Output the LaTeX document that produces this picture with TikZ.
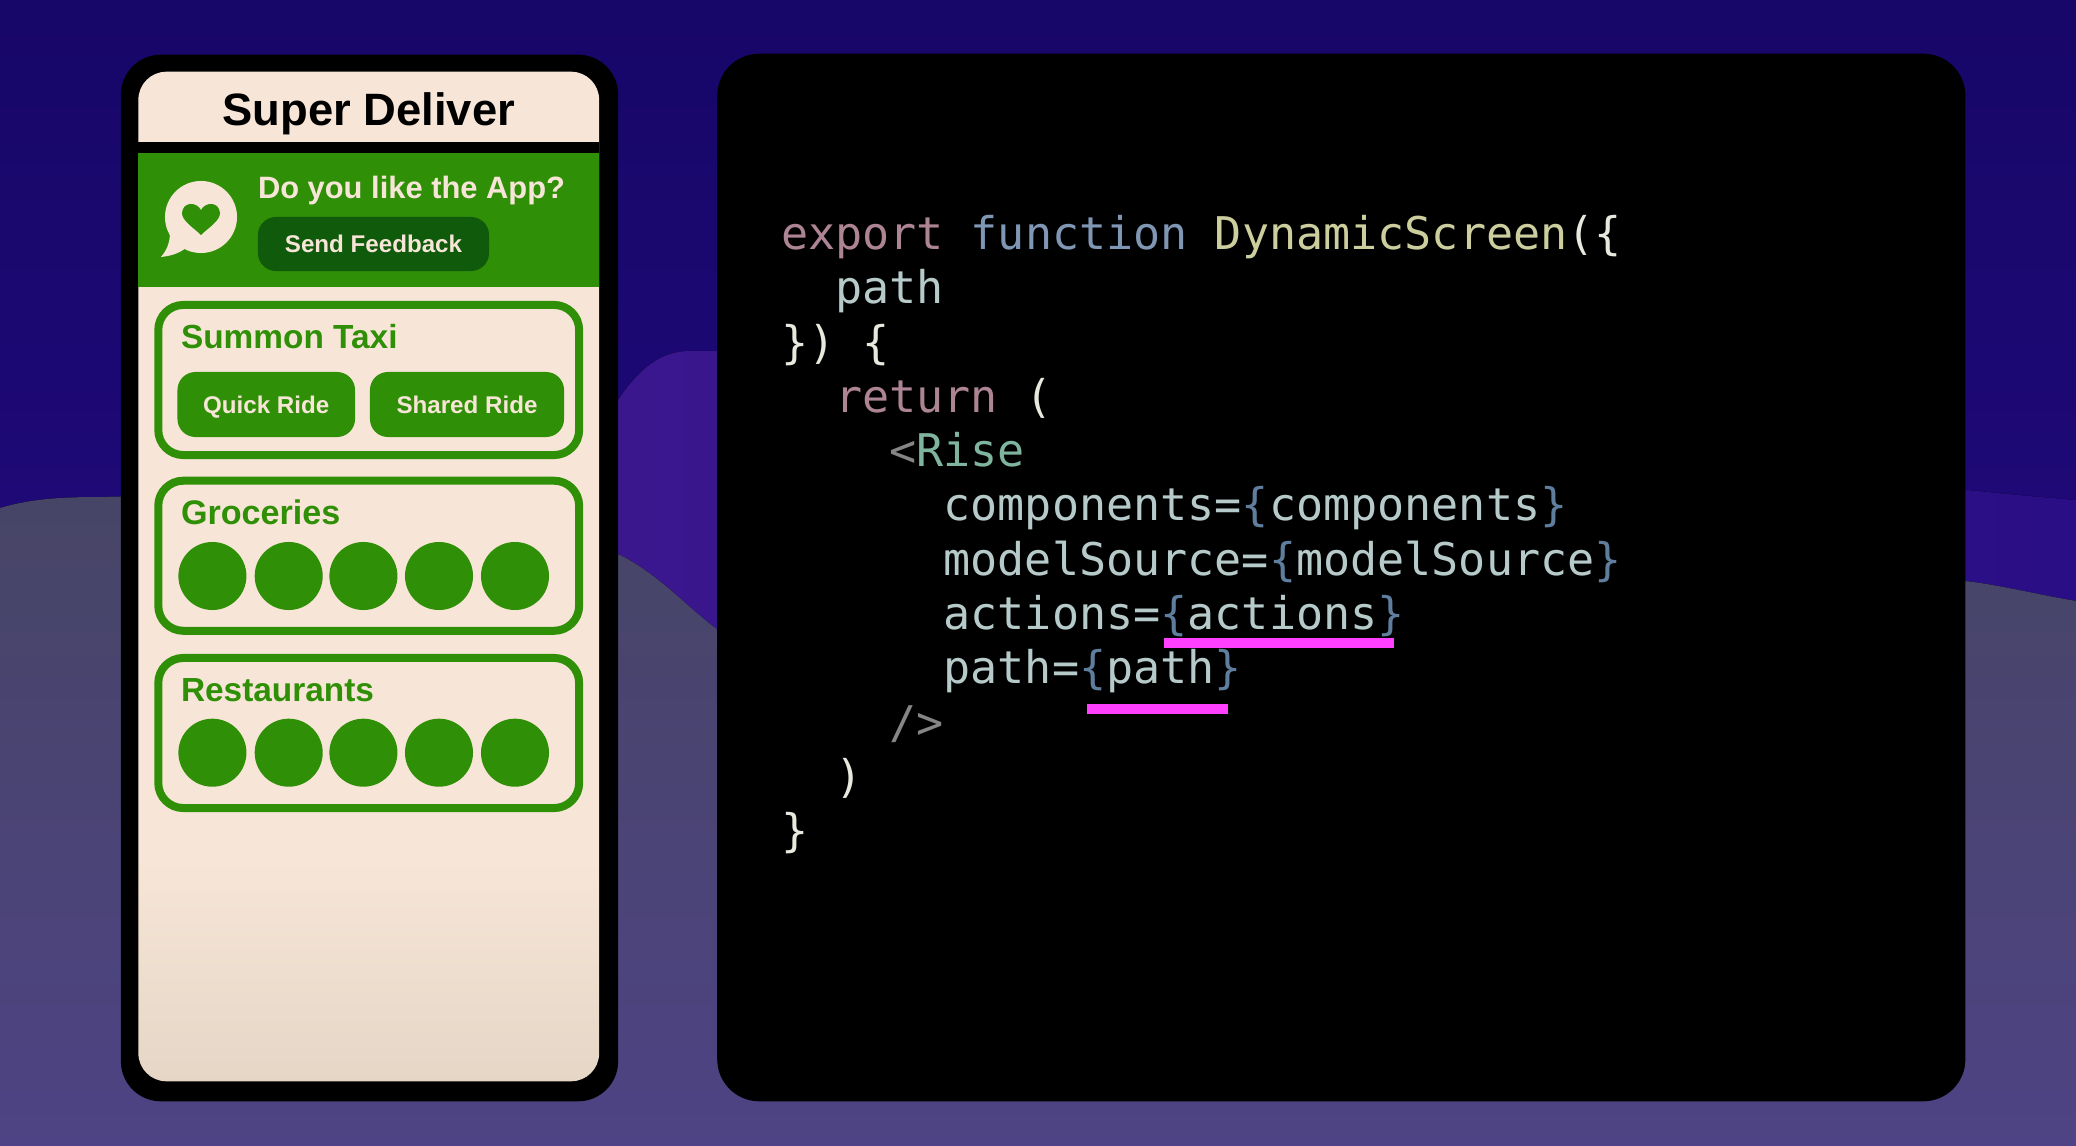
\documentclass[tikz,border=0pt]{standalone}
\usepackage{fontspec}
\setmainfont{Liberation Sans}
\setmonofont{DejaVu Sans Mono}
\usetikzlibrary{positioning}
\definecolor{skytop}{HTML}{170768}
\definecolor{skylow}{HTML}{270B88}
\definecolor{ridgeleft}{HTML}{3B178E}
\definecolor{ridgeright}{HTML}{2A0E86}
\definecolor{hilltop}{HTML}{474566}
\definecolor{hilllow}{HTML}{4E4384}
\definecolor{cream}{HTML}{F7E6D7}
\definecolor{creamlow}{HTML}{E5D6C6}
\definecolor{leaf}{HTML}{2F8F06}
\definecolor{leafdark}{HTML}{0F5A0B}
\definecolor{marker}{HTML}{FF40FF}
\definecolor{keyword}{HTML}{AD8494}
\definecolor{funcword}{HTML}{7F96B4}
\definecolor{funcname}{HTML}{CDCE9E}
\definecolor{plaincode}{HTML}{E8E8DE}
\definecolor{attrcode}{HTML}{B7CACA}
\definecolor{bracecode}{HTML}{5F7E9E}
\definecolor{tagmark}{HTML}{858585}
\definecolor{tagname}{HTML}{7FB59E}
\pgfdeclareverticalshading{screenfade}{100bp}{color(0bp)=(creamlow); color(25bp)=(creamlow); color(36bp)=(cream); color(100bp)=(cream)}

\begin{document}
\begin{tikzpicture}
	[x=0.01cm, y=-0.01cm, inner sep=0pt, outer sep=0pt,
	frame/.style	= {rectangle, fill=black, rounded corners=0.4cm},
	band/.style		= {rectangle, minimum width=4.605cm},
	card/.style		= {rectangle, draw=leaf, line width=0.08cm, rounded corners=0.25cm, minimum width=4.206cm, minimum height=1.5cm},
	action/.style	= {rectangle, fill=leaf, text=cream, rounded corners=0.18cm, minimum height=0.65cm, text height=0.17cm, text depth=0pt, font=\bfseries\fontsize{6.87}{8}\selectfont},
	heading/.style	= {anchor=base west, text=leaf, font=\bfseries\fontsize{9.5}{11}\selectfont},
	dot/.style		= {circle, fill=leaf, minimum size=0.68cm},
	code/.style		= {anchor=base west, text=attrcode, font=\ttfamily\fontsize{12.81}{15}\selectfont},
	underline/.style	= {rectangle, fill=marker, minimum height=0.1cm}]
	
	\useasboundingbox (0, 0) rectangle (2076, 1146);
	\fill [top color=skytop, bottom color=skylow] (0, 0) rectangle (2076, 1146);
	\fill [left color=ridgeleft, right color=ridgeright] (600, 430) .. controls (625, 385) and (650, 351) .. (690, 351) .. controls (900, 345) and (1700, 470) .. (2076, 500) -- (2076, 700) -- (600, 700) -- cycle;
	\fill [top color=hilltop, bottom color=hilllow] (0, 508) .. controls (30, 499) and (60, 497) .. (100, 497) .. controls (350, 490) and (520, 515) .. (620, 555) .. controls (660, 575) and (690, 610) .. (717, 629) .. controls (1100, 760) and (1700, 570) .. (1965, 581) .. controls (2000, 585) and (2040, 595) .. (2076, 601) -- (2076, 1146) -- (0, 1146) -- cycle;
	
	\node at (369.5, 578)	[frame, minimum width=4.97cm, minimum height=10.46cm]	(phone)	{};
	\node at (1341.3, 577.5)	[frame, minimum width=12.474cm, minimum height=10.47cm, rounded corners=0.42cm]	(panel)	{};
	
	\node at (368.75, 576.5)	[rectangle, rounded corners=0.28cm, shading=screenfade, minimum width=4.605cm, minimum height=10.09cm]	(screen)	{};
	\node at (368.75, 147.5)	[band, fill=black, minimum height=0.11cm]	(divider)	{};
	\node at (368.75, 220)	[band, fill=leaf, minimum height=1.34cm]	(banner)	{};
	\node at (368.75, 113.5)	[font=\bfseries\fontsize{12.9}{15}\selectfont, text=black]	(title)	{Super Deliver};
	
	\fill [cream] (201, 217) circle [radius=0.36cm];
	\fill [cream] (170, 232) .. controls (170, 244) and (166, 251) .. (161, 257) .. controls (170, 256) and (178, 254) .. (186, 248) -- cycle;
	\fill [leaf] (201, 210) .. controls (197, 202) and (183, 201) .. (182, 213) .. controls (182, 221) and (194, 228) .. (201, 235) .. controls (208, 228) and (220, 221) .. (220, 213) .. controls (219, 201) and (205, 202) .. (201, 210) -- cycle;
	
	\node at (258, 198.5)	[anchor=base west, text=cream, font=\bfseries\fontsize{8.78}{10}\selectfont]	(askapp)	{Do you like the App?};
	\node at (373.5, 244)	[action, fill=leafdark, minimum width=2.31cm, minimum height=0.54cm]	(feedback)	{Send Feedback};
	
	\node at (368.7, 380)	[card]	(taxi)	{};
	\node at (368.7, 555.75)	[card]	(groceries)	{};
	\node at (368.7, 733)	[card]	(restaurants)	{};
	
	\node at (181, 349)		[heading]	(taxilabel)	{Summon Taxi};
	\node at (181, 524)		[heading, font=\bfseries\fontsize{9.7}{11}\selectfont]	(grocerylabel)	{Groceries};
	\node at (181, 701)		[heading]	(restaurantlabel)	{Restaurants};
	
	\node at (266.25, 404.5)	[action, minimum width=1.775cm]	(quick)	{Quick Ride};
	\node at (467, 404.5)	[action, minimum width=1.94cm]	(shared)	{Shared Ride};
	
	\node at (212.4, 576)	[dot]	(g1)	{};
	\node at (288.7, 576)	[dot]	(g2)	{};
	\node at (363.4, 576)	[dot]	(g3)	{};
	\node at (439, 576)		[dot]	(g4)	{};
	\node at (515, 576)		[dot]	(g5)	{};
	
	\node at (212.4, 752.7)	[dot]	(r1)	{};
	\node at (288.7, 752.7)	[dot]	(r2)	{};
	\node at (363.4, 752.7)	[dot]	(r3)	{};
	\node at (439, 752.7)	[dot]	(r4)	{};
	\node at (515, 752.7)	[dot]	(r5)	{};
	
	\node at (781, 249.5)	[code]	(line1)		{\textcolor{keyword}{export} \textcolor{funcword}{function} \textcolor{funcname}{DynamicScreen}\textcolor{plaincode}{(\{}};
	\node at (835.2, 303.8)	[code]	(line2)		{path};
	\node at (781, 358.1)	[code, text=plaincode]	(line3)		{\}) \{};
	\node at (835.2, 412.4)	[code, text=plaincode]	(line4)		{\textcolor{keyword}{return} (};
	\node at (889.4, 466.7)	[code]	(line5)		{\textcolor{tagmark}{<}\textcolor{tagname}{Rise}};
	\node at (943.6, 521)	[code]	(line6)		{components=\textcolor{bracecode}{\{}components\textcolor{bracecode}{\}}};
	\node at (943.6, 575.3)	[code]	(line7)		{modelSource=\textcolor{bracecode}{\{}modelSource\textcolor{bracecode}{\}}};
	\node at (943.6, 629.6)	[code]	(line8)		{actions=\textcolor{bracecode}{\{}actions\textcolor{bracecode}{\}}};
	\node at (943.6, 683.9)	[code]	(line9)		{path=\textcolor{bracecode}{\{}path\textcolor{bracecode}{\}}};
	\node at (889.4, 738.2)	[code, text=tagmark]	(line10)	{/>};
	\node at (835.2, 792.5)	[code, text=plaincode]	(line11)	{)};
	\node at (781, 846.8)	[code, text=plaincode]	(line12)	{\}};
	
	\node at (1279, 643)	[underline, minimum width=2.3cm]	(markactions)	{};
	\node at (1157.5, 709)	[underline, minimum width=1.41cm]	(markpath)	{};
	
\end{tikzpicture}
\end{document}
